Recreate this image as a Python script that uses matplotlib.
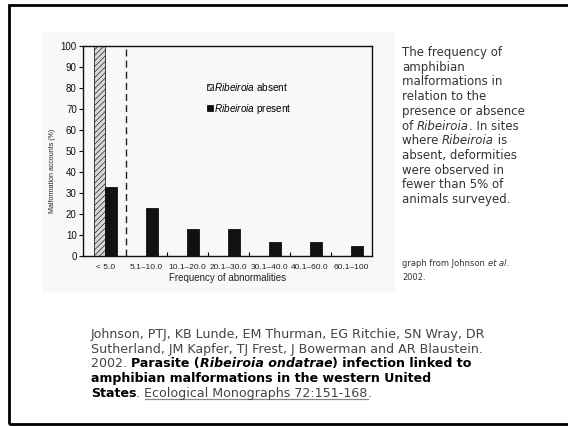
import numpy as np
import matplotlib
matplotlib.use('Agg')
import matplotlib.pyplot as plt
from matplotlib.patches import Rectangle
from matplotlib.lines import Line2D

plt.rcParams['font.family'] = 'Liberation Sans'
plt.rcParams['mathtext.fontset'] = 'custom'
plt.rcParams['mathtext.it'] = 'Liberation Sans:italic'
plt.rcParams['mathtext.rm'] = 'Liberation Sans'
plt.rcParams['hatch.linewidth'] = 0.5

categories = ['< 5.0', '5.1\u201310.0', '10.1\u201320.0', '20.1\u201330.0',
              '30.1\u201340.0', '40.1\u201360.0', '60.1\u2013100']
absent = [100, 0, 0, 0, 0, 0, 0]
present = [33, 23, 13, 13, 6.7, 6.7, 4.9]
yticks = list(range(0, 101, 10))

# slide text, one list of (text, style) runs per line
side_lines = [
    [('The frequency of', 'n')],
    [('amphibian', 'n')],
    [('malformations in', 'n')],
    [('relation to the', 'n')],
    [('presence or absence', 'n')],
    [('of ', 'n'), ('Ribeiroia', 'i'), ('. In sites', 'n')],
    [('where ', 'n'), ('Ribeiroia', 'i'), (' is', 'n')],
    [('absent, deformities', 'n')],
    [('were observed in', 'n')],
    [('fewer than 5% of', 'n')],
    [('animals surveyed.', 'n')],
]
credit_lines = [
    [('graph from Johnson ', 'n'), ('et al', 'i'), ('.', 'n')],
    [('2002.', 'n')],
]
ref_lines = [
    [('Johnson, PTJ, KB Lunde, EM Thurman, EG Ritchie, SN Wray, DR', 'n')],
    [('Sutherland, JM Kapfer, TJ Frest, J Bowerman and AR Blaustein.', 'n')],
    [('2002. ', 'n'), ('Parasite (', 'b'), ('Ribeiroia ondatrae', 'bi'),
     (') infection linked to', 'b')],
    [('amphibian malformations in the western United', 'b')],
    [('States', 'b'), ('. ', 'n'), ('Ecological Monographs 72:151-168', 'u'), ('.', 'n')],
]

W, H = 568, 426
fig = plt.figure(figsize=(W / 100, H / 100), dpi=100)


def fx(px):
    return px / W


def fy(py):
    return 1 - py / H


# slide frame and the grey of the pasted chart image
fig.add_artist(Rectangle((fx(9), fy(424)), fx(W + 20 - 9), (424 - 5) / H,
                         transform=fig.transFigure, fill=False, lw=2, ec='black'))
fig.add_artist(Rectangle((fx(42), fy(292)), fx(395 - 42), (292 - 32) / H,
                         transform=fig.transFigure, fc='#f8f8f8', ec='none', zorder=0))

ax = fig.add_axes([fx(83), fy(256), fx(289), 210 / H])
ax.set_facecolor('none')

x = np.arange(len(categories))
ax.bar(x, absent, width=-0.27, align='edge', fc='#d9d9d9', ec='#222222',
       hatch='//////', lw=0.6, label=r'$\mathit{Ribeiroia}$ absent')
ax.bar(x, present, width=0.29, align='edge', fc='#111111', ec='#111111',
       lw=0.6, label=r'$\mathit{Ribeiroia}$ present')
ax.axvline(0.5, color='#222222', lw=1, ls=(0, (5, 3)))

ax.set_xlim(-0.54, 6.51)
ax.set_ylim(0, 100)
ax.set_yticks(yticks)
ax.tick_params(axis='y', direction='out', length=3, width=0.8, labelsize=7,
               pad=1.5, colors='#111111')
ax.set_xticks(x)
ax.set_xticklabels(categories, fontsize=6, color='#222222')
ax.tick_params(axis='x', length=0, pad=6)
ax.set_xticks(x[1:-1] + 0.5, minor=True)
ax.tick_params(axis='x', which='minor', direction='in', length=3, width=0.8)
for s in ax.spines.values():
    s.set_linewidth(1)
    s.set_color('#111111')

ax.set_ylabel('Malformation accounts (%)', fontsize=5, color='#222222')
ax.yaxis.set_label_coords((56 - 83) / 289, (256 - 171) / 210)
ax.set_xlabel('Frequency of abnormalities', fontsize=7, color='#222222')
ax.xaxis.set_label_coords(0.5, -(273 - 256) / 210)

ax.legend(loc='upper left', bbox_to_anchor=((207 - 83) / 289, (256 - 81) / 210),
          frameon=False, fontsize=7.2, handlelength=0.55, handleheight=0.55,
          handletextpad=0.15, labelspacing=0.85, borderpad=0, borderaxespad=0)

renderer = fig.canvas.get_renderer()


def put_runs(x0, base, runs, size, color, bold_color=None, underline='#888888'):
    xp = x0
    for txt, st in runs:
        weight = 'bold' if 'b' in st else 'normal'
        style = 'italic' if 'i' in st else 'normal'
        c = bold_color if ('b' in st and bold_color) else color
        t = fig.text(fx(xp), fy(base), txt, fontsize=size, family='DejaVu Sans',
                     fontweight=weight, fontstyle=style, color=c, va='baseline')
        w = t.get_window_extent(renderer=renderer).width
        if st == 'u':
            fig.add_artist(Line2D([fx(xp), fx(xp + w)], [fy(base + 2), fy(base + 2)],
                                  transform=fig.transFigure, color=underline, lw=0.9))
        xp += w


for i, runs in enumerate(side_lines):
    put_runs(402, 56 + i * 14.7, runs, 8.5, '#333333')
for i, runs in enumerate(credit_lines):
    put_runs(402, 266 + i * 13.5, runs, 6, '#333333')
for i, runs in enumerate(ref_lines):
    put_runs(91, 338 + i * 14.7, runs, 9.1, '#444444', bold_color='#000000')

fig.savefig('out.png', dpi=100)
